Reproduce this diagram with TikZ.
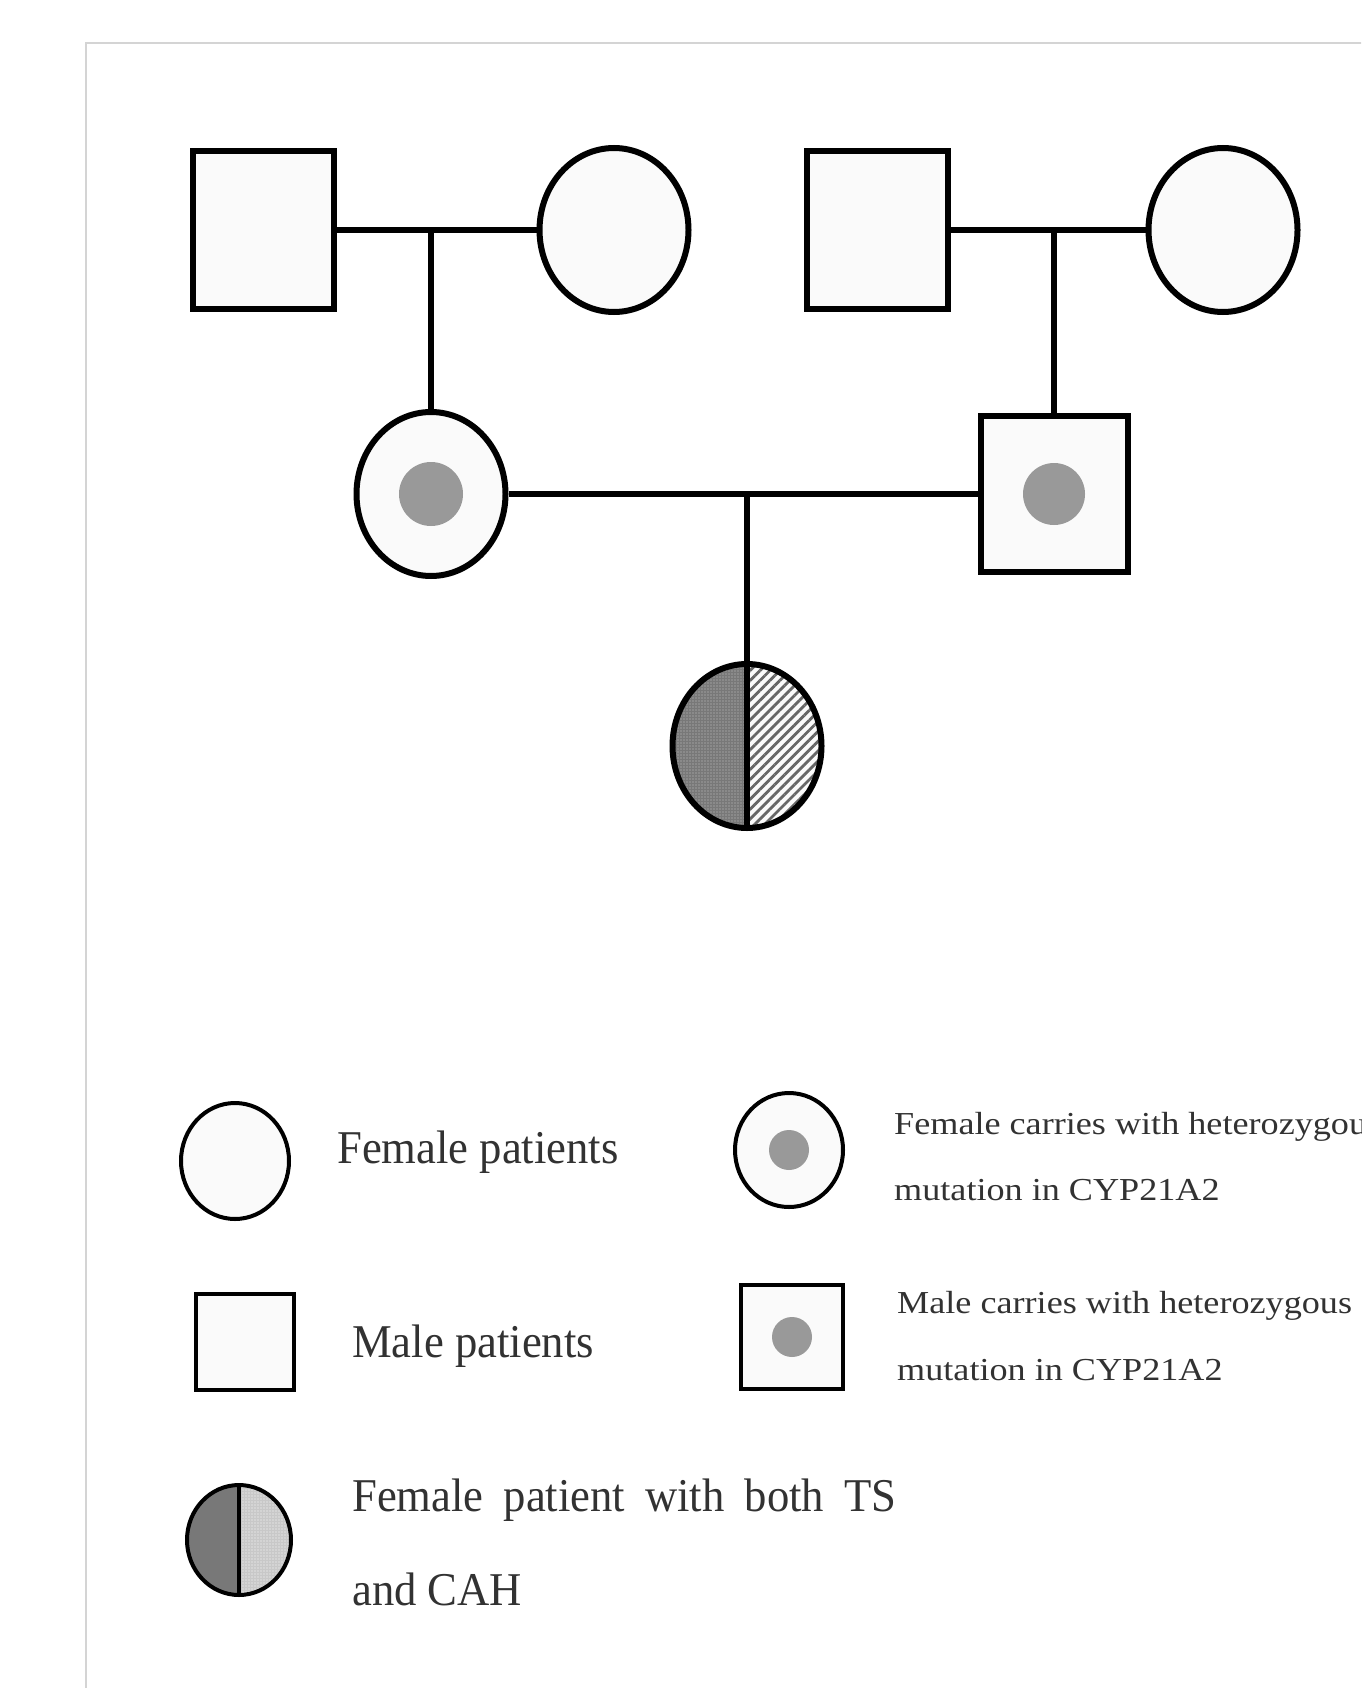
\documentclass[tikz,border=0pt]{standalone}
\usepackage{fontspec}
\setmainfont{Liberation Serif}
\newfontfamily\bigserif[FakeStretch=0.95]{Liberation Serif}
\newfontfamily\wideserif[FakeStretch=1.13]{Liberation Serif}
\usetikzlibrary{shapes.geometric,patterns.meta}
\definecolor{symfill}{RGB}{250,250,250}
\definecolor{dotgray}{RGB}{153,153,153}
\definecolor{darkhalf}{RGB}{120,120,120}
\definecolor{lighthalf}{RGB}{200,200,200}
\definecolor{txtgray}{RGB}{50,50,50}
\definecolor{framegray}{RGB}{212,212,212}

\begin{document}
\begin{tikzpicture}[x=1pt,y=-1pt,
  pedsq/.style={draw,rectangle,line width=6pt,fill=symfill,minimum width=141pt,minimum height=157pt,inner sep=0pt},
  pedci/.style={draw,ellipse,line width=6pt,fill=symfill,minimum width=149pt,minimum height=164pt,inner sep=0pt},
  legsq/.style={draw,rectangle,line width=4pt,fill=symfill,minimum width=100pt,minimum height=100pt,inner sep=0pt},
  legci/.style={draw,ellipse,line width=4pt,fill=symfill,minimum width=108pt,minimum height=116pt,inner sep=0pt},
  cdot/.style={circle,fill=dotgray,minimum size=#1,inner sep=0pt},
  pedline/.style={line width=6pt},
  lab/.style={anchor=base west,inner sep=0pt,text=txtgray,font=\bigserif\fontsize{47}{56}\selectfont},
  smalllab/.style={anchor=base west,inner sep=0pt,text=txtgray,font=\wideserif\fontsize{32}{38}\selectfont}]
\useasboundingbox (0,0) rectangle (1361,1688);
\clip (0,0) rectangle (1361,1688);
\fill[white] (0,0) rectangle (1361,1688);
\draw[framegray,line width=2pt] (86,1720) -- (86,43) -- (1400,43);

\node[pedsq] (sq1) at (263,230) {};
\node[pedci] (ci1) at (614,230) {};
\node[pedsq] (sq2) at (877,230) {};
\node[pedci] (ci2) at (1223,230) {};

\node[pedci] (ii1) at (431,494) {};
\node[cdot=64pt] (ii1dot) at (ii1) {};
\node[pedsq,minimum width=147pt,minimum height=156pt] (ii2) at (1054,494) {};
\node[cdot=62pt] (ii2dot) at (ii2) {};

\node[pedci,path picture={
  \fill[darkhalf] (path picture bounding box.north west) rectangle (path picture bounding box.south);
  \fill[pattern={Dots[distance=3pt,radius=0.6pt]},pattern color=gray!45] (path picture bounding box.north west) rectangle (path picture bounding box.south);
  \fill[pattern={Lines[angle=45,distance=7pt,line width=2.8pt]},pattern color=black!60] (path picture bounding box.north) rectangle (path picture bounding box.south east);
}] (kid) at (747,746) {};

\coordinate (m1) at (431,230);
\coordinate (m2) at (1054,230);
\coordinate (m3) at (747,494);

\draw[pedline] (sq1.east) -- (ci1.west);
\draw[pedline] (sq2.east) -- (ci2.west);
\draw[pedline] (m1) -- (ii1.north);
\draw[pedline] (m2) -- (ii2.north);
\draw[pedline] (ii1.east) -- (ii2.west);
\draw[pedline] (m3) -- (kid.north);
\draw[pedline] (kid.north) -- (kid.south);

\node[legci] (lf) at (235,1161) {};
\node[lab] (lftxt) at (337,1163) {Female patients};

\node[legci,minimum height=114pt] (lfc) at (789,1150) {};
\node[cdot=40pt] (lfcdot) at (lfc) {};
\node[smalllab] (lfctxt1) at (894,1134) {Female carries with heterozygous};
\node[smalllab] (lfctxt2) at (894,1200) {mutation in CYP21A2};

\node[legsq,minimum width=98pt,minimum height=96pt] (lm) at (245,1342) {};
\node[lab] (lmtxt) at (352,1357) {Male patients};

\node[legsq,minimum width=102pt,minimum height=104pt] (lmc) at (792,1337) {};
\node[cdot=40pt] (lmcdot) at (lmc) {};
\node[smalllab] (lmctxt1) at (897,1313) {Male carries with heterozygous};
\node[smalllab] (lmctxt2) at (897,1380) {mutation in CYP21A2};

\node[legci,minimum width=104pt,minimum height=110pt,path picture={
  \fill[darkhalf] (path picture bounding box.north west) rectangle (path picture bounding box.south);
  \fill[lighthalf] (path picture bounding box.north) rectangle (path picture bounding box.south east);
  \fill[pattern={Dots[distance=3pt,radius=0.7pt]},pattern color=white] (path picture bounding box.north) rectangle (path picture bounding box.south east);
}] (lts) at (239,1540) {};
\draw[line width=4.5pt] (lts.north) -- (lts.south);
\node[lab] (ltstxt1) at (352,1511) {\makebox[544pt][s]{Female patient with both TS}};
\node[lab] (ltstxt2) at (352,1605) {and CAH};
\end{tikzpicture}
\end{document}
